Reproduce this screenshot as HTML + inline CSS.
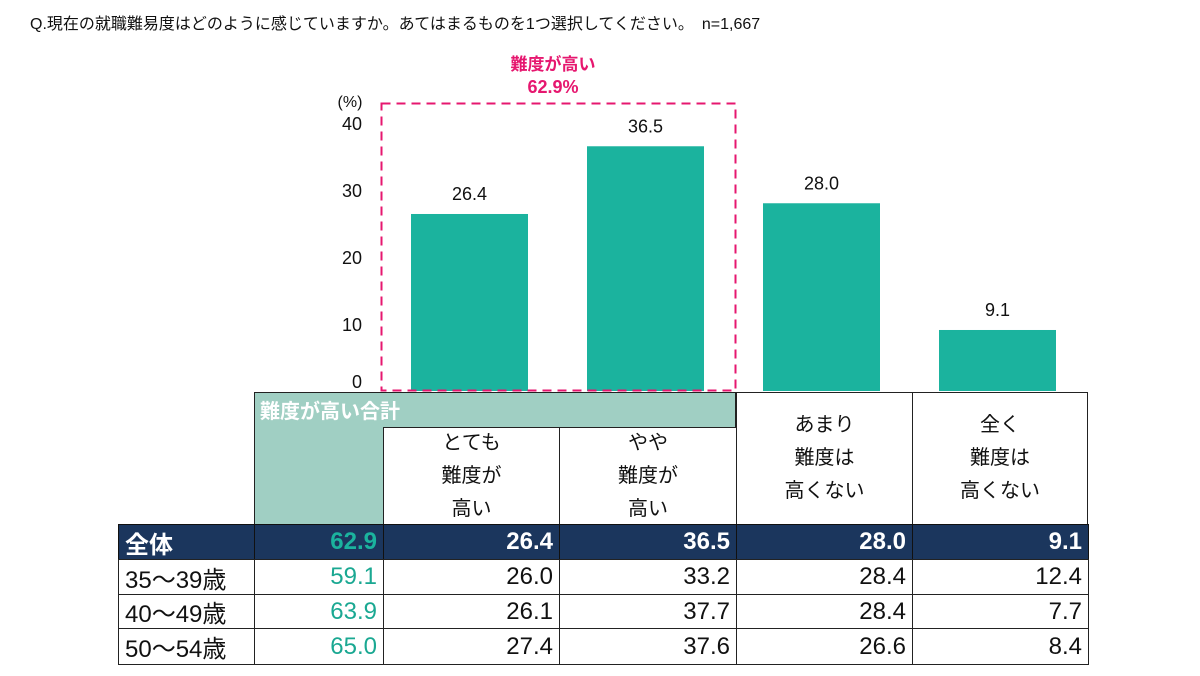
<!DOCTYPE html>
<html><head><meta charset="utf-8">
<style>
body{margin:0;width:1200px;height:676px;background:#fff;position:relative;overflow:hidden;font-family:"Liberation Sans","Noto Sans CJK JP",sans-serif;color:#111}
.a{position:absolute;box-sizing:border-box}
.c{position:absolute;box-sizing:border-box;border:1.5px solid #222;font-size:24px;display:flex;align-items:center;justify-content:flex-end;padding:0 6px;background:#fff}
.hd{justify-content:center;text-align:center;font-size:20px;line-height:33px;padding:0}
.tot{background:#1b365d;color:#fff;font-weight:bold;border-color:#111}
.g{color:#1aa892}
</style></head><body>
<div class="a" style="left:30px;top:10px;font-size:16px;white-space:nowrap">Q.現在の就職難易度はどのように感じていますか。あてはまるものを1つ選択してください。　n=1,667</div>
<svg class="a" style="left:0;top:0" width="1200" height="400">
<g id="g"></g>
</svg>
<div id="tbl"></div>
<script>
const categories=["とても難度が高い","やや難度が高い","あまり難度は高くない","全く難度は高くない"];
const values=[26.4,36.5,28.0,9.1];
const ticks=[0,10,20,30,40];
const y=v=>391-v*6.705;
const x=i=>411+i*176;
const NS="http://www.w3.org/2000/svg";
const g=document.getElementById('g');
function mk(t,a,txt){const e=document.createElementNS(NS,t);for(const k in a)e.setAttribute(k,a[k]);if(txt!==undefined)e.textContent=txt;g.appendChild(e);return e;}
ticks.forEach(t=>{const e=mk('text',{x:362,y:t===0?388:y(t)+7,'text-anchor':'end','font-size':18,fill:'#111'},t);

});
let u=mk('text',{x:350,y:107,'text-anchor':'middle','font-size':16,fill:'#111'},'(%)');


values.forEach((v,i)=>{const r=mk('rect',{x:x(i),y:y(v),width:117,height:391-y(v),fill:'#1bb39e'});


const t=mk('text',{x:x(i)+58.5,y:y(v)-14,'text-anchor':'middle','font-size':18,fill:'#111'},v.toFixed(1));

});
let b=mk('rect',{x:381.5,y:103.5,width:354,height:287,fill:'none',stroke:'#e6176f','stroke-width':2,'stroke-dasharray':'9,6'});


let l1=mk('text',{x:553,y:70,'text-anchor':'middle','font-size':17,'font-weight':'bold',fill:'#e6176f'},'難度が高い');


let l2=mk('text',{x:553,y:93,'text-anchor':'middle','font-size':18,'font-weight':'bold',fill:'#e6176f'},'62.9%');



const rowLabels=["全体","35～39歳","40～49歳","50～54歳"];
const totals=[62.9,59.1,63.9,65.0];
const tableVals=[[26.4,36.5,28.0,9.1],[26.0,33.2,28.4,12.4],[26.1,37.7,28.4,7.7],[27.4,37.6,26.6,8.4]];
const cols=[118,254,383,559,736,912,1088];
const rows=[524,559,594,628,664];
const T=document.getElementById('tbl');
function cell(l,t,w,h,cls,txt,name){const d=document.createElement('div');d.className=cls;d.style.cssText=`left:${l}px;top:${t}px;width:${w}px;height:${h}px`;d.innerHTML=txt;


T.appendChild(d);return d;}
let hg=cell(254,392,482,36,'a','難度が高い合計','header-high-total');
hg.style.cssText+=';background:#a0cfc3;color:#fff;font-weight:bold;font-size:20px;padding:2px 5px;border:1.5px solid #222;border-bottom:none';
let hg2=cell(254,426,130,99,'a','','header-total-fill');
hg2.style.cssText+=';background:#a0cfc3;border-left:1.5px solid #222;border-bottom:1.5px solid #222';
cell(383,427,177,98,'c hd','とても<br>難度が<br>高い','header-very-high');
cell(559,427,178,98,'c hd','やや<br>難度が<br>高い','header-somewhat-high');
cell(736,392,177,133,'c hd','あまり<br>難度は<br>高くない','header-not-very');
cell(912,392,176,133,'c hd','全く<br>難度は<br>高くない','header-not-at-all');
rowLabels.forEach((lab,r)=>{const tot=r===0?' tot':'';const h=rows[r+1]-rows[r]+1;
let c=cell(cols[0],rows[r],cols[1]-cols[0]+1,h,'c'+tot,lab,'row-label');c.style.justifyContent='flex-start';
cell(cols[1],rows[r],cols[2]-cols[1]+1,h,'c g'+tot,totals[r].toFixed(1),'total-value');
tableVals[r].forEach((v,j)=>cell(cols[j+2],rows[r],cols[j+3]-cols[j+2]+1,h,'c'+tot,v.toFixed(1),'table-value'));});
document.querySelectorAll('.tot.g').forEach(e=>e.style.color='#1bb39e');
</script>
</body></html>
